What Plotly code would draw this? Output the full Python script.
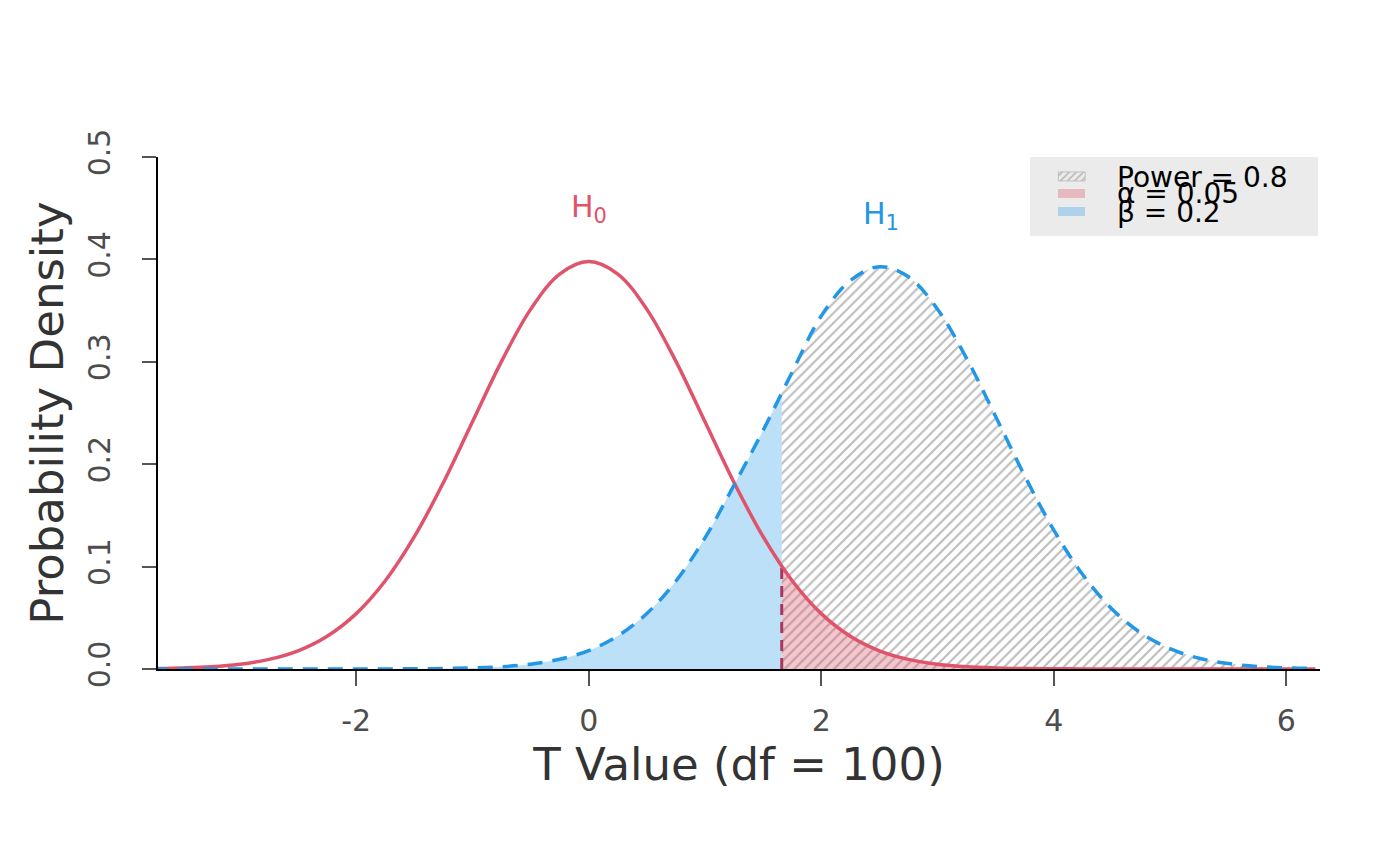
import plotly.graph_objects as go

# ---- data ----
x_grid = [-3.75, -3.5, -3.25, -3.0, -2.75, -2.5, -2.25, -2.0, -1.75, -1.5,
          -1.25, -1.0, -0.75, -0.5, -0.25, 0.0, 0.25, 0.5, 0.75, 1.0,
          1.25, 1.5, 1.75, 2.0, 2.25, 2.5, 2.75, 3.0, 3.25, 3.5,
          3.75, 4.0, 4.25, 4.5, 4.75, 5.0, 5.25, 5.5, 5.75, 6.0, 6.25]
h0_density = [0.0004, 0.0010, 0.0021, 0.0046, 0.0094, 0.0178, 0.0320, 0.0541, 0.0862, 0.1292,
              0.1821, 0.2414, 0.3004, 0.3512, 0.3857, 0.3979, 0.3857, 0.3512, 0.3004, 0.2414,
              0.1821, 0.1292, 0.0862, 0.0541, 0.0320, 0.0178, 0.0094, 0.0046, 0.0021, 0.0010,
              0.0004, 0.0002, 0.0001, 0.0000, 0.0000, 0.0000, 0.0000, 0.0000, 0.0000, 0.0000, 0.0000]
h1_density = [0.0000, 0.0000, 0.0000, 0.0000, 0.0000, 0.0000, 0.0000, 0.0000, 0.0001, 0.0002,
              0.0005, 0.0010, 0.0022, 0.0047, 0.0095, 0.0180, 0.0323, 0.0542, 0.0859, 0.1281,
              0.1796, 0.2330, 0.2900, 0.3447, 0.3793, 0.3929, 0.3830, 0.3514, 0.3034, 0.2466,
              0.1886, 0.1357, 0.0920, 0.0586, 0.0352, 0.0198, 0.0105, 0.0053, 0.0025, 0.0011, 0.0005]
crit_t = 1.66
h0_at_crit = 0.101
h1_at_crit = 0.270
x_ticks = [-2, 0, 2, 4, 6]
y_ticks = [0.0, 0.1, 0.2, 0.3, 0.4, 0.5]
legend_labels = ["Power = 0.8", "α = 0.05", "β = 0.2"]
h_labels = ["H<sub>0</sub>", "H<sub>1</sub>"]
h_label_x = [0.0, 2.51]
h_label_y = [0.450, 0.443]

RED = "#DF536B"
BLUE = "#2297E6"
FONT = "DejaVu Sans"

# split at the critical value
left_x = [v for v in x_grid if v < crit_t] + [crit_t]
left_h1 = [d for v, d in zip(x_grid, h1_density) if v < crit_t] + [h1_at_crit]
right_x = [crit_t] + [v for v in x_grid if v > crit_t]
right_h1 = [h1_at_crit] + [d for v, d in zip(x_grid, h1_density) if v > crit_t]
right_h0 = [h0_at_crit] + [d for v, d in zip(x_grid, h0_density) if v > crit_t]

fig = go.Figure()

# beta region
fig.add_trace(go.Scatter(x=left_x, y=left_h1, mode="lines", line=dict(width=0, shape="spline"),
                         fill="tozeroy", fillcolor="rgba(34,151,230,0.30)", hoverinfo="skip",
                         showlegend=False))
# power region (hatched)
fig.add_trace(go.Scatter(x=right_x, y=right_h1, mode="lines", line=dict(width=0, shape="spline"),
                         fill="tozeroy", fillcolor="rgba(0,0,0,0)",
                         fillpattern=dict(shape="/", fgcolor="#7a7a7a", bgcolor="rgba(0,0,0,0)",
                                          size=7, solidity=0.3),
                         hoverinfo="skip", showlegend=False))
# alpha region
fig.add_trace(go.Scatter(x=right_x, y=right_h0, mode="lines", line=dict(width=0, shape="spline"),
                         fill="tozeroy", fillcolor="rgba(223,83,107,0.33)", hoverinfo="skip",
                         showlegend=False))
# critical line
fig.add_trace(go.Scatter(x=[crit_t, crit_t], y=[0, h0_at_crit], mode="lines",
                         line=dict(color="#a8375c", width=3, dash="11px,7px"),
                         hoverinfo="skip", showlegend=False))
# H0 curve
fig.add_trace(go.Scatter(x=x_grid, y=h0_density, mode="lines",
                         line=dict(color=RED, width=3.5, shape="spline"), showlegend=False))
# H1 curve
fig.add_trace(go.Scatter(x=x_grid, y=h1_density, mode="lines",
                         line=dict(color=BLUE, width=3.5, shape="spline", dash="15px,10px"),
                         showlegend=False))

# legend box drawn by hand (R-style)
fig.add_shape(type="rect", xref="paper", yref="paper", x0=0.7504, x1=0.9983, y0=0.8457, y1=1.0,
              fillcolor="#EBEBEB", line=dict(width=0), layer="below")
# hatched swatch
fig.add_trace(go.Scatter(x=[4.04, 4.27, 4.27, 4.04, 4.04], y=[0.4766, 0.4766, 0.4854, 0.4854, 0.4766],
                         mode="lines", line=dict(width=1, color="#c0c0c0"), fill="toself",
                         fillcolor="rgba(0,0,0,0)",
                         fillpattern=dict(shape="/", fgcolor="#808080", bgcolor="rgba(0,0,0,0)",
                                          size=5, solidity=0.3),
                         hoverinfo="skip", showlegend=False))
fig.add_shape(type="rect", xref="paper", yref="paper", x0=0.7745, x1=0.7978, y0=0.9199, y1=0.9375,
              fillcolor="rgba(223,83,107,0.33)", line=dict(width=0))
fig.add_shape(type="rect", xref="paper", yref="paper", x0=0.7745, x1=0.7978, y0=0.8848, y1=0.9023,
              fillcolor="rgba(34,151,230,0.30)", line=dict(width=0))

for txt, py in zip(legend_labels, [0.960, 0.928, 0.891]):
    fig.add_annotation(text=txt, xref="paper", yref="paper", x=0.8236, y=py,
                       xanchor="left", yanchor="middle", showarrow=False,
                       font=dict(family=FONT, size=28, color="black"))

for txt, hx, hy, col in zip(h_labels, h_label_x, h_label_y, [RED, BLUE]):
    fig.add_annotation(text=txt, x=hx, y=hy, xref="x", yref="y", showarrow=False,
                       font=dict(family=FONT, size=30, color=col))

fig.update_layout(
    width=1392, height=858,
    margin=dict(l=150, r=80, t=149, b=197),
    paper_bgcolor="white", plot_bgcolor="white",
    font=dict(family=FONT),
    xaxis=dict(range=[-3.705, 6.29], tickvals=x_ticks, ticktext=[str(v) for v in x_ticks],
               showgrid=False, zeroline=False, showline=True, linecolor="black", linewidth=2,
               ticks="outside", ticklen=15, tickwidth=2, tickcolor="#555555",
               tickfont=dict(size=30, color="#4d4d4d"), ticklabelstandoff=9,
               title=dict(text="T Value (df = 100)", font=dict(size=45, color="#333333"), standoff=9)),
    yaxis=dict(range=[0, 0.5], tickvals=y_ticks, ticktext=[f"{v:.1f}" for v in y_ticks],
               showgrid=False, zeroline=False, showline=True, linecolor="black", linewidth=2,
               ticks="outside", ticklen=14, tickwidth=2, tickcolor="#555555", tickangle=-90,
               tickfont=dict(size=30, color="#4d4d4d"), ticklabelstandoff=20,
               title=dict(text="Probability Density", font=dict(size=45, color="#333333"), standoff=4)),
)

fig.write_html("out.html")
